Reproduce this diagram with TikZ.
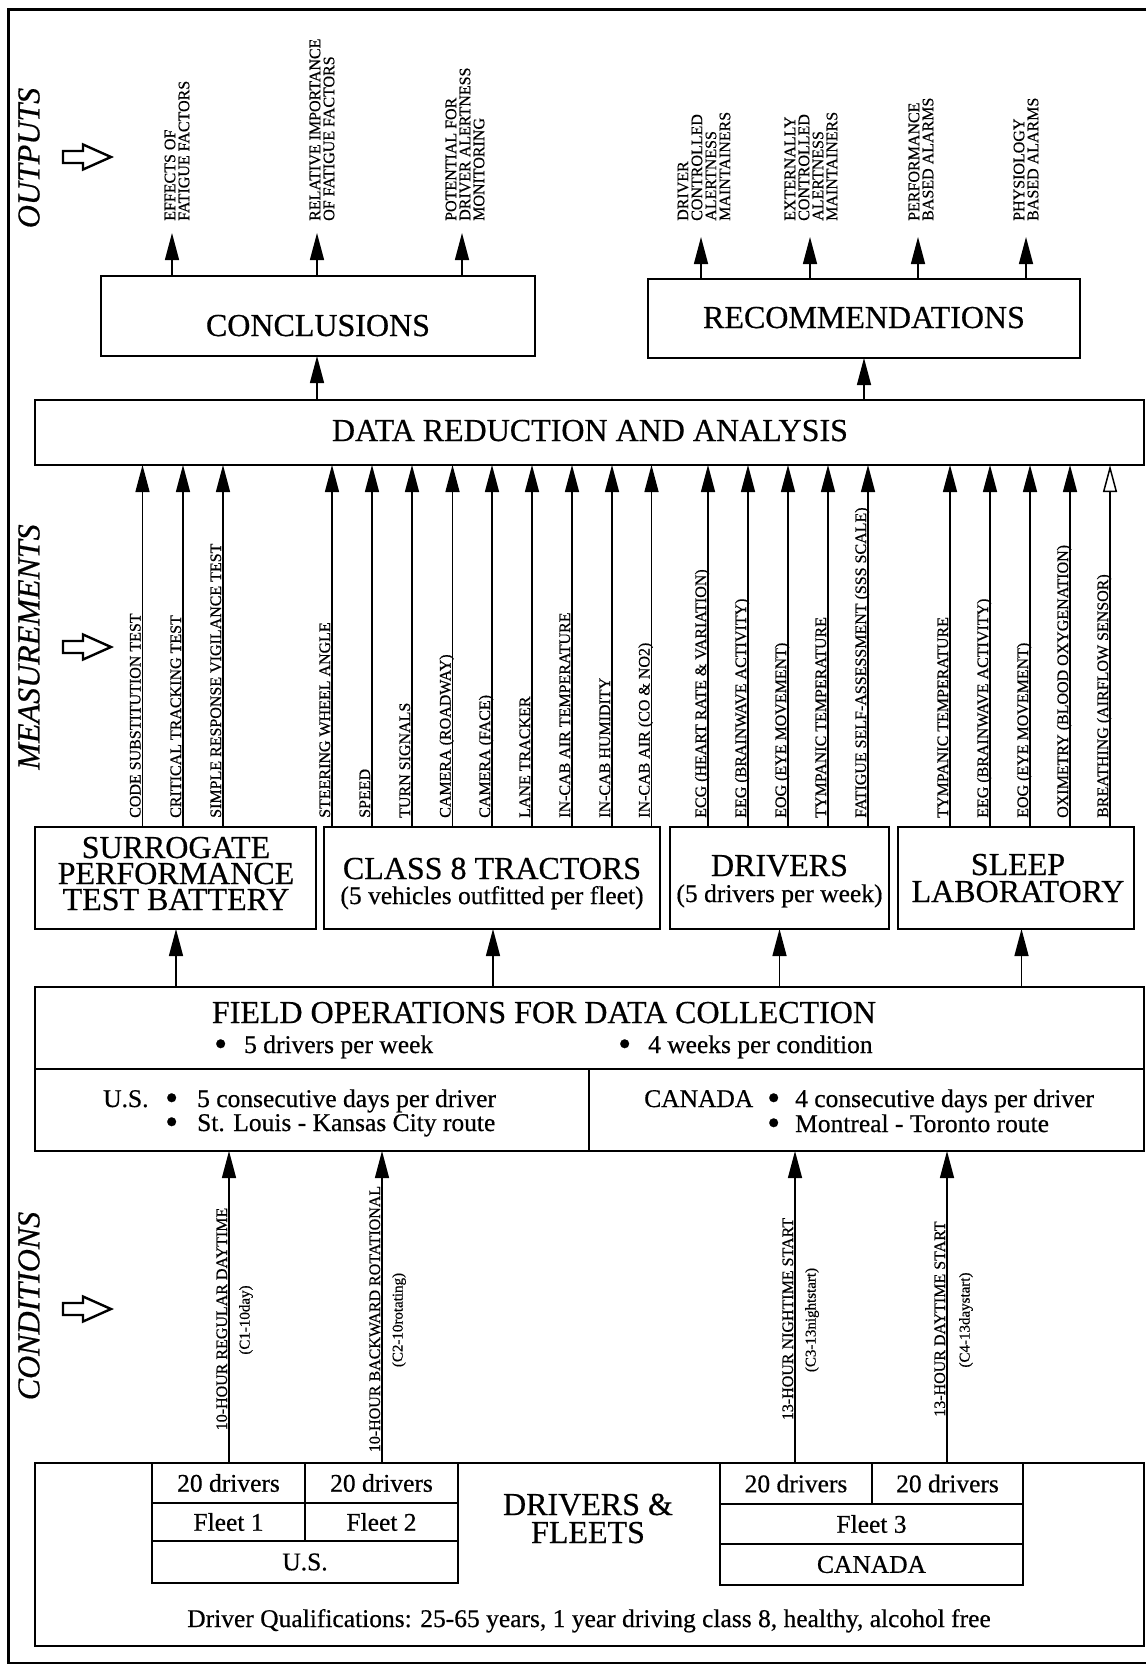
\documentclass[tikz,border=0pt]{standalone}
\usepackage{fontspec}
\setmainfont{Liberation Serif}[FakeBold=0.5]
\usetikzlibrary{arrows.meta}
\newcommand\FHuge{\fontsize{32}{26}\selectfont}
\newcommand\FMid{\fontsize{25.5}{26}\selectfont}
\newcommand\FLab{\fontsize{16}{14}\selectfont}
\newcommand\FCond{\fontsize{15}{15}\selectfont}
\newcommand\FSec{\fontsize{32}{32}\selectfont\itshape}
\newcommand\Bul{\raisebox{-3pt}{\scalebox{1.45}{\textbullet}}}
\newcommand\boxnode[5]{\node[box, minimum width={#4-#2}, minimum height={#5-#3}] (#1) at ({(#2+#4)/2},{(#3+#5)/2}) {};}
\newcommand\hollowarrow[1]{\draw[harrow] (63,#1-6) -- (83,#1-6) -- (83,#1-12.5) -- (111,#1) -- (83,#1+12.5) -- (83,#1+6) -- (63,#1+6) -- cycle;}
\begin{document}
\begin{tikzpicture}[x=1pt,y=-1pt,
  box/.style={draw, line width=2.2pt, inner sep=0pt, outer sep=0pt},
  cell/.style={draw, line width=1.8pt, inner sep=0pt, outer sep=0pt, font=\FMid},
  arr/.style={line width=1.4pt, -{Triangle[length=27pt,width=14pt]}},
  oarr/.style={line width=1.4pt, -{Triangle[open,length=27pt,width=14pt,fill=white,line width=1.5pt]}},
  harrow/.style={line width=2.4pt, line join=miter},
  mlab/.style={font=\FLab, rotate=90, anchor=base west, inner sep=0pt},
  olab/.style={font=\FLab, rotate=90, anchor=west, align=left, inner sep=0pt},
  clab/.style={font=\FLab, rotate=90, anchor=base, inner sep=0pt},
  plab/.style={font=\FCond, rotate=90, anchor=north, inner sep=0pt},
  big/.style={font=\FHuge, anchor=base, inner sep=0pt},
  mid/.style={font=\FMid, anchor=base, inner sep=0pt},
  midw/.style={font=\FMid, anchor=base west, inner sep=0pt},
  sec/.style={font=\FSec, rotate=90, inner sep=0pt}
]
\useasboundingbox (0,0) rectangle (1146,1667);
\fill[white] (0,0) rectangle (1146,1667);
% outer frame
\draw[line width=2.8pt] (1146,9.5) -- (8.5,9.5) -- (8.5,1663) -- (1146,1663);

% section labels
\node[sec] (sOut) at (29,158) {OUTPUTS};
\node[sec] (sMeas) at (29,647) {MEASUREMENTS};
\node[sec] (sCond) at (29,1306) {CONDITIONS};
\hollowarrow{157}
\hollowarrow{647}
\hollowarrow{1309}

% boxes
\boxnode{concl}{101}{276}{535}{356}
\boxnode{recom}{648}{279}{1080}{358}
\boxnode{data}{35}{400}{1144}{465}
\boxnode{surr}{35}{827}{316}{929}
\boxnode{tract}{324}{827}{660}{929}
\boxnode{drv}{670}{827}{889}{929}
\boxnode{sleep}{898}{827}{1134}{929}
\boxnode{field}{35}{987}{1144}{1151}
\boxnode{fleets}{35}{1463}{1144}{1646}

% box texts
\node[big] (conclT) at (318,336) {CONCLUSIONS};
\node[big] (recomT) at (864,328) {RECOMMENDATIONS};
\node[big] (dataT) at (590,441) {DATA REDUCTION AND ANALYSIS};
\node[big] (surrT1) at (176,858) {SURROGATE};
\node[big] (surrT2) at (176,884) {PERFORMANCE};
\node[big] (surrT3) at (176,910) {TEST BATTERY};
\node[big] (tractT1) at (492,879) {CLASS 8 TRACTORS};
\node[mid] (tractT2) at (492,904) {(5 vehicles outfitted per fleet)};
\node[big] (drvT1) at (779.5,876) {DRIVERS};
\node[mid] (drvT2) at (779.5,902) {(5 drivers per week)};
\node[big] (sleepT1) at (1018,875) {SLEEP};
\node[big] (sleepT2) at (1018,902) {LABORATORY};

% outputs
\coordinate (o1) at (172,233);
\coordinate (o2) at (317,233);
\coordinate (o3) at (462,233);
\coordinate (o4) at (701,237);
\coordinate (o5) at (810,237);
\coordinate (o6) at (918,237);
\coordinate (o7) at (1026,237);
\foreach \c in {o1,o2,o3}{\draw[arr] (concl.north -| \c) -- (\c);}
\foreach \c in {o4,o5,o6,o7}{\draw[arr] (recom.north -| \c) -- (\c);}
\node[olab] (ol1) at (177,221) {EFFECTS OF\\FATIGUE FACTORS};
\node[olab] (ol2) at (322,221) {RELATIVE IMPORTANCE\\OF FATIGUE FACTORS};
\node[olab] (ol3) at (465,221) {POTENTIAL FOR\\DRIVER ALERTNESS\\MONITORING};
\node[olab] (ol4) at (704,221) {DRIVER\\CONTROLLED\\ALERTNESS\\MAINTAINERS};
\node[olab] (ol5) at (811,221) {EXTERNALLY\\CONTROLLED\\ALERTNESS\\MAINTAINERS};
\node[olab] (ol6) at (921,221) {PERFORMANCE\\BASED ALARMS};
\node[olab] (ol7) at (1026,221) {PHYSIOLOGY\\BASED ALARMS};

% data -> conclusions / recommendations
\coordinate (dc) at (317,0);
\coordinate (dr) at (864,0);
\draw[arr] (data.north -| dc) -- (concl.south -| dc);
\draw[arr] (data.north -| dr) -- (recom.south -| dr);

% measurements
\foreach \x/\lab [count=\i] in {142.5/CODE SUBSTITUTION TEST, 183/CRITICAL TRACKING TEST, 223/SIMPLE RESPONSE VIGILANCE TEST}{
  \coordinate (ma\i) at (\x,0);
  \draw[arr] (surr.north -| ma\i) -- (data.south -| ma\i);
  \node[mlab] (mla\i) at (\x-2,818) {\lab};
}
\foreach \x/\lab [count=\i] in {332/STEERING WHEEL ANGLE, 372/SPEED, 412/TURN SIGNALS, 452.5/CAMERA (ROADWAY), 492/CAMERA (FACE), 532/LANE TRACKER, 572/IN-CAB AIR TEMPERATURE, 612/IN-CAB HUMIDITY, 651.5/IN-CAB AIR (CO \& NO2)}{
  \coordinate (mb\i) at (\x,0);
  \draw[arr] (tract.north -| mb\i) -- (data.south -| mb\i);
  \node[mlab] (mlb\i) at (\x-2,818) {\lab};
}
\foreach \x/\lab [count=\i] in {708/ECG (HEART RATE \& VARIATION), 748/EEG (BRAINWAVE ACTIVITY), 788/EOG (EYE MOVEMENT), 828/TYMPANIC TEMPERATURE, 868/FATIGUE SELF-ASSESSMENT (SSS SCALE)}{
  \coordinate (mc\i) at (\x,0);
  \draw[arr] (drv.north -| mc\i) -- (data.south -| mc\i);
  \node[mlab] (mlc\i) at (\x-2,818) {\lab};
}
\foreach \x/\lab [count=\i] in {950/TYMPANIC TEMPERATURE, 990/EEG (BRAINWAVE ACTIVITY), 1030/EOG (EYE MOVEMENT), 1070/OXIMETRY (BLOOD OXYGENATION)}{
  \coordinate (md\i) at (\x,0);
  \draw[arr] (sleep.north -| md\i) -- (data.south -| md\i);
  \node[mlab] (mld\i) at (\x-2,818) {\lab};
}
\coordinate (md5) at (1110,0);
\draw[oarr] (sleep.north -| md5) -- (data.south -| md5);
\node[mlab] (mld5) at (1108,818) {BREATHING (AIRFLOW SENSOR)};

% field operations -> measurement boxes
\coordinate (f1) at (176,0);
\coordinate (f2) at (493,0);
\coordinate (f3) at (779.5,0);
\coordinate (f4) at (1021.5,0);
\draw[arr] (field.north -| f1) -- (surr.south -| f1);
\draw[arr] (field.north -| f2) -- (tract.south -| f2);
\draw[arr] (field.north -| f3) -- (drv.south -| f3);
\draw[arr] (field.north -| f4) -- (sleep.south -| f4);

% field operations content
\coordinate (fdiv) at (0,1069);
\coordinate (fmid) at (589,1069);
\draw[line width=2.2pt] (field.west |- fdiv) -- (field.east |- fdiv);
\draw[line width=2.2pt] (fmid) -- (field.south -| fmid);
\node[big] (fieldT) at (544,1023) {FIELD OPERATIONS FOR DATA COLLECTION};
\node[midw] (fb1) at (214,1053) {\Bul\hspace{17pt}5 drivers per week};
\node[midw] (fb2) at (618,1053) {\Bul\hspace{17pt}4 weeks per condition};
\node[midw] (us) at (103,1107) {U.S.};
\node[midw] (usb1) at (165,1107) {\Bul\hspace{19pt}5 consecutive days per driver};
\node[midw] (usb2) at (165,1131) {\Bul\hspace{19pt}St. Louis - Kansas City route};
\node[midw] (ca) at (644,1107) {CANADA};
\node[midw] (cab1) at (767,1107) {\Bul\hspace{15pt}4 consecutive days per driver};
\node[midw] (cab2) at (767,1132) {\Bul\hspace{15pt}Montreal - Toronto route};

% drivers & fleets tables
\node[cell, minimum width=153, minimum height=40] (d1) at (228.5,1483) {20 drivers};
\node[cell, minimum width=153, minimum height=40] (d2) at (381.5,1483) {20 drivers};
\node[cell, minimum width=153, minimum height=38] (fl1) at (228.5,1522) {Fleet 1};
\node[cell, minimum width=153, minimum height=38] (fl2) at (381.5,1522) {Fleet 2};
\node[cell, minimum width=306, minimum height=42] (usc) at (305,1562) {U.S.};
\node[cell, minimum width=152, minimum height=41] (d3) at (796,1483.5) {20 drivers};
\node[cell, minimum width=151, minimum height=41] (d4) at (947.5,1483.5) {20 drivers};
\node[cell, minimum width=303, minimum height=40] (fl3) at (871.5,1524) {Fleet 3};
\node[cell, minimum width=303, minimum height=41] (cac) at (871.5,1564.5) {CANADA};
\node[big] (dfa) at (588,1515) {DRIVERS \&};
\node[big] (dfb) at (588,1543) {FLEETS};
\node[mid] (qual) at (589,1627) {Driver Qualifications: 25-65 years, 1 year driving class 8, healthy, alcohol free};

% conditions
\coordinate (c1) at (229,0);
\coordinate (c2) at (382,0);
\coordinate (c3) at (795,0);
\coordinate (c4) at (947,0);
\draw[arr] (d1.north -| c1) -- (field.south -| c1);
\draw[arr] (d2.north -| c2) -- (field.south -| c2);
\draw[arr] (d3.north -| c3) -- (field.south -| c3);
\draw[arr] (d4.north -| c4) -- (field.south -| c4);
\node[clab] (cl1) at (227,1319) {10-HOUR REGULAR DAYTIME};
\node[clab] (cl2) at (380,1319) {10-HOUR BACKWARD ROTATIONAL};
\node[clab] (cl3) at (793,1319) {13-HOUR NIGHTIME START};
\node[clab] (cl4) at (945,1319) {13-HOUR DAYTIME START};
\node[plab] (cp1) at (239,1320) {(C1-10day)};
\node[plab] (cp2) at (392,1320) {(C2-10rotating)};
\node[plab] (cp3) at (805,1320) {(C3-13nightstart)};
\node[plab] (cp4) at (959,1320) {(C4-13daystart)};
\end{tikzpicture}
\end{document}
